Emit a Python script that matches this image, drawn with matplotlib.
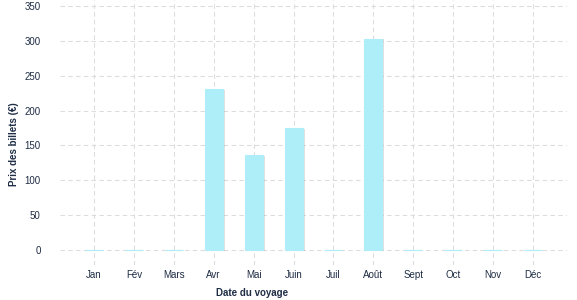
import matplotlib
matplotlib.use("Agg")
import matplotlib.pyplot as plt
import matplotlib.patheffects as pe

months = ["Jan", "Fév", "Mars", "Avr", "Mai", "Juin", "Juil", "Août", "Sept", "Oct", "Nov", "Déc"]
prices = [0, 0, 0, 231, 136, 175, 0, 303, 0, 0, 0, 0]
yticks = [0, 50, 100, 150, 200, 250, 300, 350]

txt = "#1f2d45"
plt.rcParams['font.family'] = ['Liberation Sans', 'DejaVu Sans']

fig = plt.figure(figsize=(5.77, 3.0), dpi=100)
ax = fig.add_axes([60/577, 35/300, 507/577, 265/300])

x = list(range(len(months)))
bars = ax.bar(x, prices, width=0.45, color="#aeeef8", edgecolor="#aeeef8", linewidth=0.8, zorder=3)
for b in bars:
    b.set_path_effects([pe.SimplePatchShadow(offset=(1.5, -0.5), shadow_rgbFace="#888888", alpha=0.25), pe.Normal()])

ax.set_xlim(-0.85, 11.85)
ax.set_ylim(-21.5, 358.6)
ax.set_xticks(x)
ax.set_xticklabels(months, fontsize=7, color=txt)
ax.set_yticks(yticks)
ax.set_yticklabels([str(v) for v in yticks], fontsize=7, color=txt)
ax.tick_params(axis='both', length=0)
ax.tick_params(axis='x', pad=3.5)
ax.tick_params(axis='y', pad=14)
for s in ax.spines.values():
    s.set_visible(False)
ax.grid(True, color="#dddddd", linestyle=(0, (4, 3)), linewidth=0.8, zorder=0)
ax.set_axisbelow(True)

fig.text(252/577, 1 - 293/300, "Date du voyage", ha="center", va="center", fontsize=7, fontweight="bold", color=txt)
fig.text(14/577, 1 - 144/300, "Prix des billets (€)", ha="center", va="center", rotation=90, fontsize=7, fontweight="bold", color=txt)

fig.savefig("out.png", dpi=100)
